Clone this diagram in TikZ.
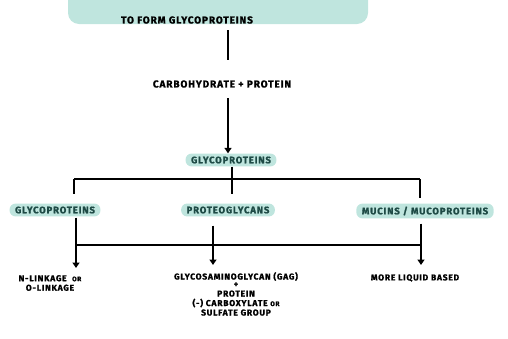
\documentclass[tikz,border=0pt]{standalone}
\usepackage{fontspec}
\setmainfont{Fira Sans}[LetterSpace=9, BoldFeatures={FakeBold=1.2}]
\usetikzlibrary{arrows.meta}
\definecolor{hl}{HTML}{BFE5DE}
\definecolor{hltext}{HTML}{1E4A45}
\tikzset{
  ln/.style={line width=1.9pt, black},
  arr/.style={ln, -{Triangle[length=5.5pt,width=7pt]}},
  hlbox/.style={fill=hl, rounded corners=6pt, inner xsep=5.5pt, inner ysep=3pt, text=hltext, font=\bfseries\fontsize{9.5}{10}\selectfont},
  lbl/.style={font=\bfseries\fontsize{8.5}{9.5}\selectfont, align=center, inner sep=1pt},
  big/.style={font=\bfseries\fontsize{10}{11}\selectfont, inner sep=1pt},
}
\begin{document}
\begin{tikzpicture}[x=1pt, y=-1pt]
\useasboundingbox (0,0) rectangle (508,338);
\begin{scope}
\clip (0,0) rectangle (508,338);
\node[fill=hl, rounded corners=11pt, minimum width=300pt, minimum height=40pt, inner sep=0pt] (banner) at (218,4) {};
\end{scope}
\node[big] (title) at (187,20) {TO FORM GLYCOPROTEINS};
\node[big] (carb) at (222,84) {CARBOHYDRATE + PROTEIN};
\node[hlbox] (gp) at (231,160) {GLYCOPROTEINS};
\node[hlbox] (gp2) at (55,210) {GLYCOPROTEINS};
\node[hlbox] (pg) at (228,210) {PROTEOGLYCANS};
\node[hlbox] (muc) at (425,211) {MUCINS / MUCOPROTEINS};
\node[lbl] (nl) at (50,283) {N-LINKAGE\ \ {\fontsize{6.5}{7}\selectfont OR}\\O-LINKAGE};
\node[lbl, anchor=north] (gag) at (236,271) {GLYCOSAMINOGLYCAN (GAG)\\[-2pt]+\\PROTEIN\\(-) CARBOXYLATE {\fontsize{6.5}{7}\selectfont OR}\\SULFATE GROUP};
\node[lbl] (liq) at (415,278) {MORE LIQUID BASED};
% coordinates
\coordinate (c1) at (228,30);
\coordinate (c2) at (228,60);
\coordinate (c3) at (228,98);
\coordinate (t) at (232,179);
\coordinate (tl) at (74,179);
\coordinate (tr) at (420,179);
\coordinate (b) at (213,245);
\coordinate (bl) at (76,245);
\coordinate (br) at (421,245);
\draw[ln] (c1) -- (c2);
\draw[arr] (c3) -- (gp.north -| c3);
\draw[ln] (t |- gp.south) -- (t) -- ++(0,15);
\draw[ln] (tl) -- (tr);
\draw[ln] (tl) -- ++(0,15);
\draw[ln] (tr) -- ++(0,19);
\draw[ln] (bl) -- (br);
\draw[ln] (bl |- gp2.south) ++(0,1) -- (bl);
\draw[arr] (bl) -- ++(0,23);
\draw[ln] (b |- pg.south) ++(0,9) -- (b);
\draw[arr] (b) -- ++(0,20);
\draw[ln] (br |- muc.south) ++(0,5) -- (br);
\draw[arr] (br) -- ++(0,20);
\end{tikzpicture}
\end{document}
